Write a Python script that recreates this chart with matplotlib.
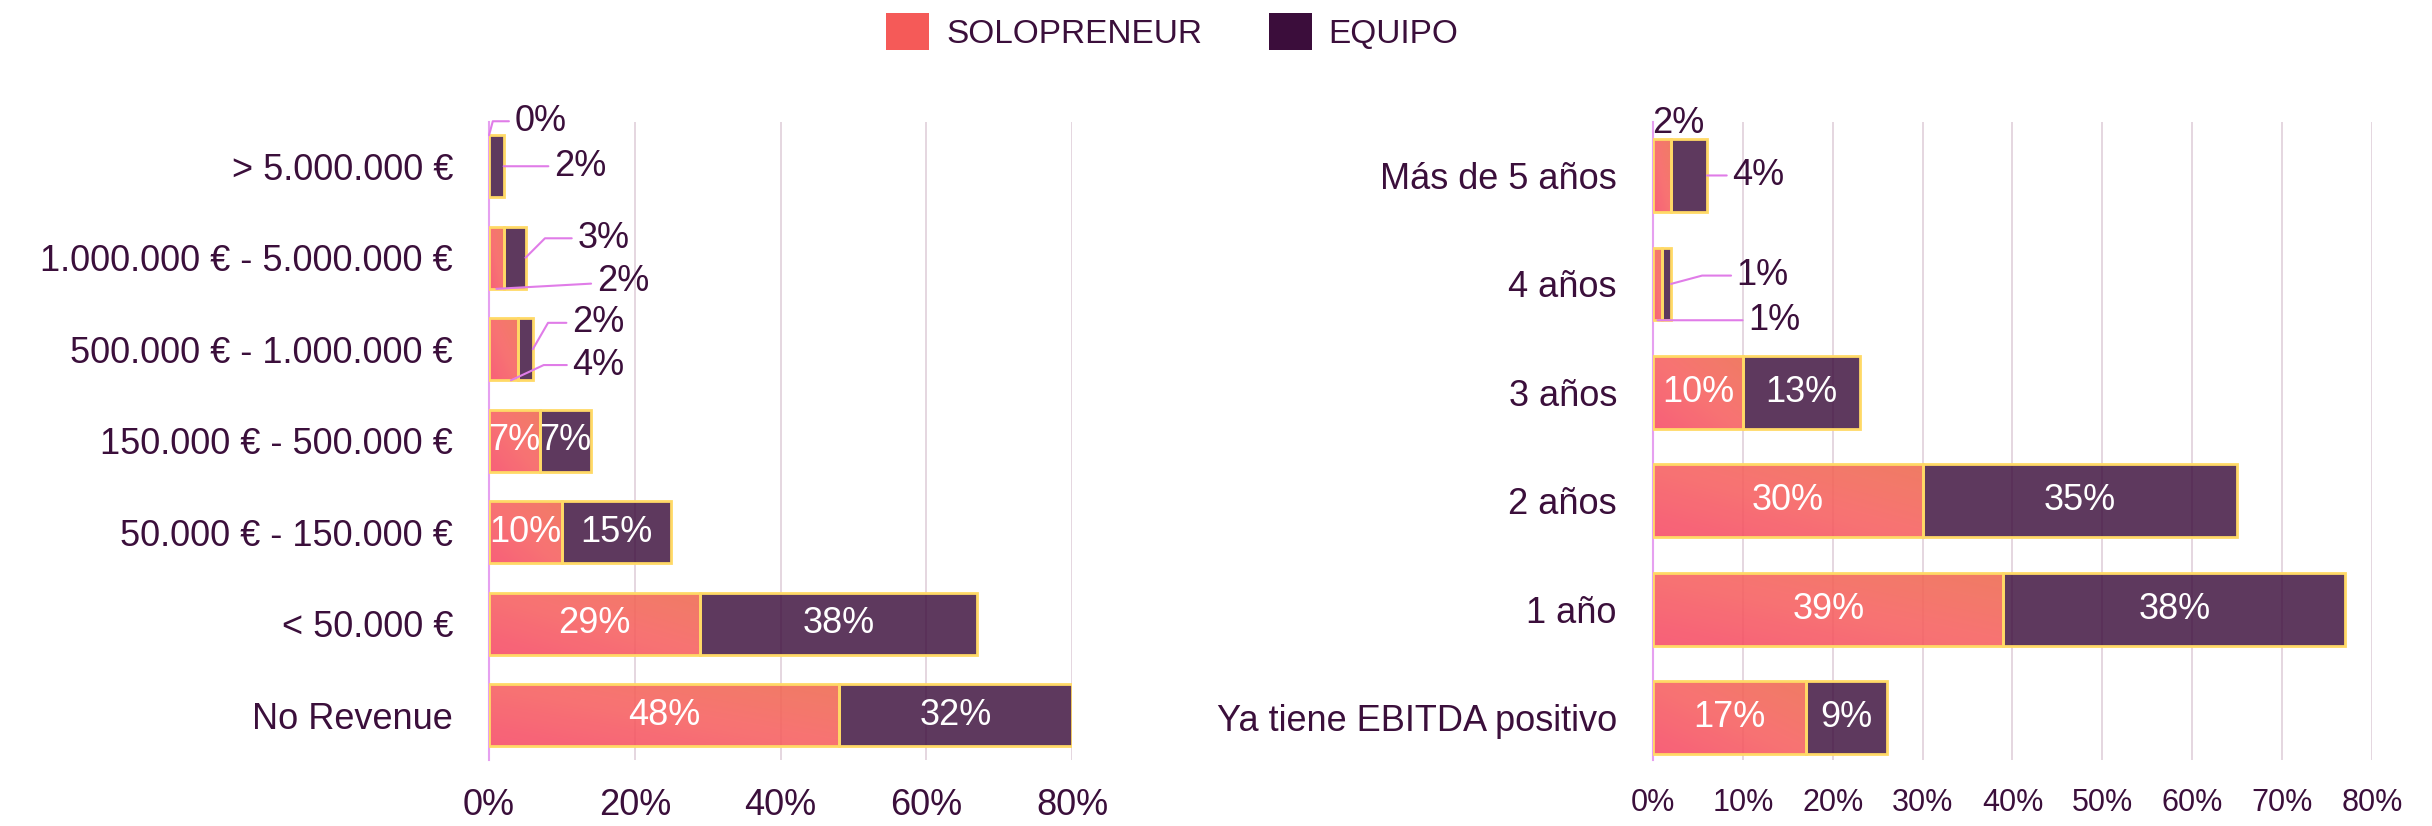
import numpy as np
import matplotlib.pyplot as plt
from matplotlib.colors import LinearSegmentedColormap
from matplotlib.patches import Patch

plt.rcParams['font.family'] = ['Liberation Sans', 'DejaVu Sans']

# data (top to bottom as shown)
revenue_cats = ['> 5.000.000 €', '1.000.000 € - 5.000.000 €', '500.000 € - 1.000.000 €',
                '150.000 € - 500.000 €', '50.000 € - 150.000 €', '< 50.000 €', 'No Revenue']
revenue_solo = [0, 2, 4, 7, 10, 29, 48]
revenue_equipo = [2, 3, 2, 7, 15, 38, 32]

ebitda_cats = ['Más de 5 años', '4 años', '3 años', '2 años', '1 año', 'Ya tiene EBITDA positivo']
ebitda_solo = [2, 1, 10, 30, 39, 17]
ebitda_equipo = [4, 1, 13, 35, 38, 9]

series_names = ['SOLOPRENEUR', 'EQUIPO']

TEXT = '#3b0f3b'
EQUIPO_C = '#3b0d3b'
EDGE = '#ffd966'
LEADER = '#e07ce8'
FS = 26
grad_cmap = LinearSegmentedColormap.from_list('solo', ['#f64a66', '#f76060', '#ef6a4f'])

# outside labels: (cat, series) -> (anchor x frac of segment, anchor y side, dx pt, dy pt, angleB)
left_out = {
    (0, 0): (0.0, -1, 37, 10, 75),
    (0, 1): (1.0, 0, 55, 0, None),
    (1, 1): (1.0, 0, 56, 14, 45),
    (1, 0): (0.5, 1, 91, 5, None),
    (2, 1): (1.0, 0, 47, 19, 60),
    (2, 0): (0.75, 1, 63, 11, 25),
}
right_out = {
    (0, 0): (0.0, -1, 18, 11, 'none'),
    (0, 1): (1.0, 0, 37, 0, None),
    (1, 1): (1.0, 0, 66, 6, 15),
    (1, 0): (0.5, 1, 84, 0, None),
}


def draw_panel(ax, cats, solo, equipo, ticks, tick_fs, out_specs, h, ylim):
    y = np.arange(len(cats))
    for i in range(len(cats)):
        # solopreneur bar with diagonal gradient
        if solo[i] > 0:
            rect = ax.barh(y[i], solo[i], height=h, left=0, facecolor='none',
                           edgecolor=EDGE, linewidth=2, zorder=3)[0]
            gx, gy = np.meshgrid(np.linspace(0, 1, 60), np.linspace(0, 1, 60))
            im = ax.imshow((gx + gy) / 2, cmap=grad_cmap, alpha=0.88, aspect='auto',
                           extent=(0, solo[i], y[i] + h / 2, y[i] - h / 2),
                           origin='lower', interpolation='bilinear', zorder=2)
            im.set_clip_path(rect)
        ax.barh(y[i], equipo[i], height=h, left=solo[i], color=EQUIPO_C, alpha=0.82,
                zorder=2)
        ax.barh(y[i], equipo[i], height=h, left=solo[i], facecolor='none',
                edgecolor=EDGE, linewidth=2, zorder=3)
        for s, (left, val) in enumerate([(0, solo[i]), (solo[i], equipo[i])]):
            key = (i, s)
            if key in out_specs:
                fx, fy, dx, dy, ang = out_specs[key]
                ax_x = left + fx * val
                ax_y = y[i] + fy * h / 2
                if ang == 'none':
                    ax.annotate(f'{val}%', xy=(ax_x, ax_y), xytext=(dx, dy),
                                textcoords='offset points', ha='center', va='center',
                                fontsize=FS, color=TEXT, zorder=5)
                    continue
                cs = 'arc3' if ang is None else f'angle,angleA=0,angleB={ang},rad=0'
                ax.annotate(f'{val}%', xy=(ax_x, ax_y), xytext=(dx, dy),
                            textcoords='offset points', ha='center', va='center',
                            fontsize=FS, color=TEXT, zorder=5,
                            arrowprops=dict(arrowstyle='-', color=LEADER, lw=1.5,
                                            connectionstyle=cs, shrinkA=2, shrinkB=0))
            else:
                ax.text(left + val / 2, y[i], f'{val}%', ha='center', va='center',
                        fontsize=FS, color='white', zorder=5)
    ax.set_xlim(0, ticks[-1])
    ax.set_ylim(*ylim)
    ax.set_yticks(y)
    ax.set_yticklabels(cats, fontsize=FS, color=TEXT)
    ax.set_xticks(ticks)
    ax.set_xticklabels([f'{t}%' for t in ticks], fontsize=tick_fs, color=TEXT)
    ax.tick_params(axis='both', length=0)
    ax.tick_params(axis='y', pad=26)
    ax.tick_params(axis='x', pad=20)
    ax.grid(axis='x', color='#e3d3dd', linewidth=1.3, zorder=0)
    ax.set_axisbelow(True)
    for sp in ['top', 'right', 'bottom']:
        ax.spines[sp].set_visible(False)
    ax.spines['left'].set_color('#e6a0f0')
    ax.spines['left'].set_linewidth(1.5)


fig = plt.figure(figsize=(24.32, 8.26), dpi=100)
ax1 = fig.add_axes([0.2011, 0.0799, 0.2397, 0.772])
ax2 = fig.add_axes([0.6797, 0.0799, 0.2956, 0.772])

draw_panel(ax1, revenue_cats, revenue_solo, revenue_equipo, [0, 20, 40, 60, 80], 26,
           left_out, 0.68, (6.49, -0.48))
draw_panel(ax2, ebitda_cats, ebitda_solo, ebitda_equipo, [0, 10, 20, 30, 40, 50, 60, 70, 80], 22,
           right_out, 0.67, (5.39, -0.49))

handles = [Patch(facecolor='#f55a58', edgecolor='none'), Patch(facecolor=EQUIPO_C, edgecolor='none')]
leg = fig.legend(handles, series_names, loc='center', bbox_to_anchor=(0.482, 0.962), ncol=2,
                 frameon=False, fontsize=24, handlelength=1.3, handleheight=1.3,
                 handletextpad=0.5, columnspacing=2.0)
for t in leg.get_texts():
    t.set_color(TEXT)

plt.savefig('out.png', dpi=100)
